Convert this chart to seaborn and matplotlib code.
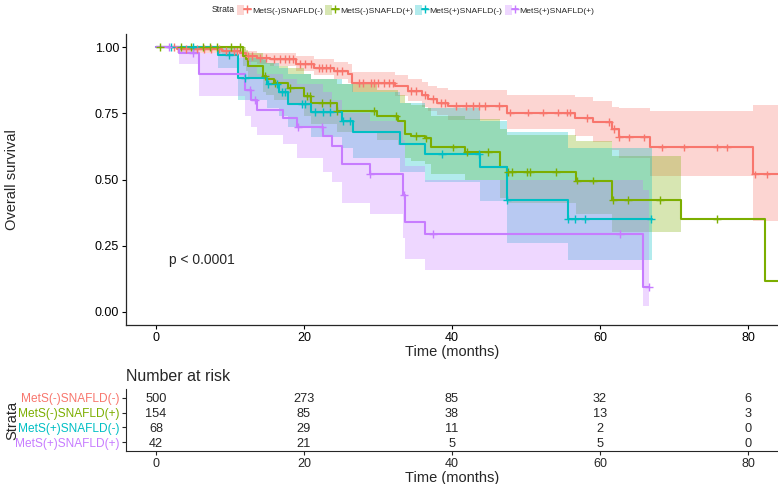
import numpy as np
import pandas as pd
import matplotlib
matplotlib.use("Agg")
import matplotlib.pyplot as plt
import seaborn as sns
from matplotlib.lines import Line2D
from matplotlib.patches import Patch
from matplotlib.legend_handler import HandlerTuple

sns.set_style("ticks")
plt.rcParams["font.family"] = ["Liberation Sans", "DejaVu Sans"]

strata = ["MetS(-)SNAFLD(-)", "MetS(-)SNAFLD(+)", "MetS(+)SNAFLD(-)", "MetS(+)SNAFLD(+)"]
colors = ["#F8766D", "#7CAE00", "#00BFC4", "#C77CFF"]

# ---- MetS(-)SNAFLD(-) ----
t1 = [0, 2.9, 8.9, 11.3, 12.2, 13.6, 15.4, 18.9, 21.4, 24.1, 26, 26.5, 32.3, 34, 35.9, 36.8, 38, 39.5,
      47.4, 56.6, 59.1, 61.6, 62.5, 66.8, 80.7, 85]
s1 = [1.0, 0.993, 0.987, 0.98, 0.966, 0.96, 0.955, 0.936, 0.922, 0.91, 0.898, 0.866, 0.855, 0.835, 0.82,
      0.804, 0.79, 0.778, 0.753, 0.734, 0.716, 0.69, 0.659, 0.621, 0.519, 0.519]
l1 = [1.0, 0.98, 0.97, 0.96, 0.945, 0.935, 0.93, 0.91, 0.895, 0.88, 0.865, 0.83, 0.815, 0.795, 0.775,
      0.76, 0.745, 0.725, 0.69, 0.665, 0.64, 0.61, 0.58, 0.515, 0.345, 0.345]
u1 = [1.0, 1.0, 1.0, 0.995, 0.985, 0.98, 0.978, 0.965, 0.955, 0.945, 0.935, 0.905, 0.895, 0.88, 0.87,
      0.855, 0.845, 0.84, 0.82, 0.81, 0.795, 0.775, 0.77, 0.76, 0.78, 0.78]
c1 = [2.5, 4, 5.5, 6.5, 7.5, 8.5, 9.5, 10.5, 11, 12.5, 13, 14, 14.8, 16, 16.8, 17.5, 18, 18.5, 19.5, 20.2,
      21, 22, 22.5, 23, 23.5, 24.5, 25.2, 27.5, 28, 29, 29.5, 30, 30.8, 31.5, 32, 34.5, 35.2, 36.3, 37.5,
      38.5, 39, 40.6, 41.9, 42.8, 43.6, 44.5, 46.4, 47.8, 50.3, 52.3, 54.3, 55.5, 55.9, 58.3, 61.2, 61.9,
      62.6, 63.9, 65.9, 68.4, 71.3, 75.8, 77.2, 80.9, 82.5]

# ---- MetS(-)SNAFLD(+) ----
t2 = [0, 11.8, 12.2, 12.5, 14.5, 14.9, 16, 17.8, 20, 21, 24.4, 29.9, 32.7, 33.6, 34.5, 36.3, 37.2, 41.8,
      46.5, 47.4, 56.8, 61.6, 71, 82.3, 85]
s2 = [1.0, 0.965, 0.955, 0.93, 0.89, 0.88, 0.866, 0.847, 0.816, 0.79, 0.76, 0.74, 0.72, 0.673, 0.665,
      0.655, 0.621, 0.603, 0.546, 0.527, 0.496, 0.421, 0.35, 0.117, 0.117]
l2 = [1.0, 0.93, 0.91, 0.88, 0.83, 0.82, 0.80, 0.78, 0.74, 0.71, 0.68, 0.65, 0.63, 0.58, 0.57, 0.56, 0.52,
      0.50, 0.43, 0.41, 0.37, 0.30, 0.214, np.nan, np.nan]
u2 = [1.0, 1.0, 0.99, 0.98, 0.95, 0.94, 0.93, 0.92, 0.90, 0.88, 0.86, 0.84, 0.82, 0.79, 0.78, 0.77, 0.74,
      0.73, 0.69, 0.67, 0.645, 0.59, 0.57, np.nan, np.nan]
c2 = [0.5, 3.4, 4.8, 6.4, 7.3, 8.2, 10.2, 11.4, 14.7, 16.1, 18.1, 20.4, 20.8, 22.4, 23.5, 24.4, 29.4, 32.5,
      35.2, 36.5, 40.2, 42, 44.9, 47.6, 48.1, 50.1, 50.5, 54.1, 56.9, 59.1, 61.8, 63.8, 68.1, 75.8]

# ---- MetS(+)SNAFLD(-) ----
t3 = [0, 8.4, 11.1, 15, 16.6, 17.9, 21, 25.1, 26.6, 33, 36.3, 43.8, 47.4, 55.7, 67]
s3 = [1.0, 0.97, 0.885, 0.86, 0.83, 0.787, 0.756, 0.72, 0.678, 0.635, 0.597, 0.546, 0.421, 0.35, 0.35]
l3 = [1.0, 0.92, 0.80, 0.77, 0.74, 0.70, 0.66, 0.62, 0.58, 0.53, 0.49, 0.42, 0.26, 0.195, 0.195]
u3 = [1.0, 1.0, 0.96, 0.94, 0.92, 0.90, 0.88, 0.86, 0.83, 0.79, 0.77, 0.72, 0.68, 0.62, 0.62]
c3 = [2, 5, 9.9, 12, 15.2, 16.3, 17, 17.4, 19.7, 20.1, 21.5, 22.6, 23.5, 25.3, 26.2, 38.6, 43.7, 47.4,
      55.7, 56.6, 58, 66.9]

# ---- MetS(+)SNAFLD(+) ----
t4 = [0, 3.1, 5.8, 12, 12.9, 13.6, 17.2, 19, 22.6, 23.8, 25.1, 28.9, 33.4, 33.6, 36.3, 65.8, 66.6]
s4 = [1.0, 0.979, 0.90, 0.84, 0.80, 0.763, 0.733, 0.70, 0.665, 0.628, 0.56, 0.52, 0.44, 0.34, 0.293,
      0.095, 0.095]
l4 = [1.0, 0.935, 0.816, 0.74, 0.70, 0.67, 0.635, 0.58, 0.53, 0.49, 0.41, 0.37, 0.28, 0.20, 0.158, 0.02, 0.02]
u4 = [1.0, 1.0, 0.98, 0.95, 0.93, 0.90, 0.88, 0.86, 0.83, 0.80, 0.75, 0.72, 0.65, 0.55, 0.50, 0.46, 0.46]
c4 = [1.7, 5, 12.7, 13.4, 19.2, 22.5, 28.9, 33.5, 37.4, 62.7, 66.6]

risk_times = [0, 20, 40, 60, 80]
risk1 = [500, 273, 85, 32, 6]
risk2 = [154, 85, 38, 13, 3]
risk3 = [68, 29, 11, 2, 0]
risk4 = [42, 21, 5, 5, 0]

groups = [(t1, s1, l1, u1, c1), (t2, s2, l2, u2, c2), (t3, s3, l3, u3, c3), (t4, s4, l4, u4, c4)]
risks = [risk1, risk2, risk3, risk4]

W, H = 778, 484
fig = plt.figure(figsize=(W / 100, H / 100), dpi=100)

def fx(px):
    return px / W

def fy(py):
    return 1 - py / H

ax = fig.add_axes([fx(126), fy(325), fx(778) - fx(126), fy(34) - fy(325)])
ax2 = fig.add_axes([fx(126), fy(451), fx(778) - fx(126), fy(389) - fy(451)])

# curves
rows, crow = [], []
for name, (t, s, l, u, c) in zip(strata, groups):
    for ti, si in zip(t, s):
        rows.append({"time": ti, "surv": si, "strata": name})
    ta, sa = np.array(t), np.array(s)
    for ci in c:
        idx = np.searchsorted(ta, ci, side="right") - 1
        crow.append({"time": ci, "surv": sa[idx], "strata": name})
df = pd.DataFrame(rows)
cdf = pd.DataFrame(crow)

for (t, s, l, u, c), col in zip(groups, colors):
    ax.fill_between(t, l, u, step="post", color=col, alpha=0.3, linewidth=0)

sns.lineplot(data=df, x="time", y="surv", hue="strata", hue_order=strata, palette=colors,
             drawstyle="steps-post", estimator=None, linewidth=1.5, legend=False, ax=ax)
sns.scatterplot(data=cdf, x="time", y="surv", hue="strata", hue_order=strata, palette=colors,
                marker="+", s=32, linewidth=1.0, legend=False, ax=ax, zorder=5)

ax.set_xlim(-4.05, 84.05)
ax.set_ylim(-0.05, 1.05)
ax.set_xticks([0, 20, 40, 60, 80])
ax.set_yticks([0, 0.25, 0.5, 0.75, 1.0])
ax.set_yticklabels(["0.00", "0.25", "0.50", "0.75", "1.00"])
ax.set_xlabel("Time (months)", fontsize=10.5, labelpad=1)
ax.set_ylabel("Overall survival", fontsize=10.5)
ax.yaxis.set_label_coords(-0.164, 0.5)
ax.tick_params(labelsize=9, length=3, width=0.8, colors="black", pad=2)
for sp in ["top", "right"]:
    ax.spines[sp].set_visible(False)
for sp in ["left", "bottom"]:
    ax.spines[sp].set_linewidth(0.9)
ax.text(1.8, 0.195, "p < 0.0001", fontsize=10, va="center", ha="left")

# risk table
for i, (r, col) in enumerate(zip(risks, colors)):
    for tt, v in zip(risk_times, r):
        ax2.text(tt, i + 1, str(v), ha="center", va="center_baseline", fontsize=9.2)
ax2.set_xlim(-4.05, 84.05)
ax2.set_ylim(4.6, 0.4)
ax2.set_yticks([1, 2, 3, 4])
ax2.set_yticklabels(strata)
for lab, col in zip(ax2.get_yticklabels(), colors):
    lab.set_color(col)
ax2.set_xticks([0, 20, 40, 60, 80])
ax2.tick_params(axis="y", labelsize=8.6, length=3, width=0.8, pad=2)
ax2.tick_params(axis="x", labelsize=9, length=3, width=0.8, pad=2)
ax2.set_xlabel("Time (months)", fontsize=10.5, labelpad=1)
ax2.set_ylabel("Strata", fontsize=10.5)
ax2.yaxis.set_label_coords(-0.164, 0.5)
ax2.set_title("Number at risk", loc="left", fontsize=11.5, pad=6)
for sp in ["top", "right"]:
    ax2.spines[sp].set_visible(False)

# legend
fig.text(fx(212), fy(10), "Strata", fontsize=6.2, va="center", ha="left")
handles = [(Patch(facecolor=c, alpha=0.3, edgecolor="none"),
            Line2D([], [], color=c, marker="+", markersize=6, linewidth=1.3)) for c in colors]
fig.legend(handles=handles, labels=strata, loc="center left", bbox_to_anchor=(fx(237), fy(10)),
           ncol=4, frameon=False, fontsize=6.1, handlelength=1.6, handleheight=1.6, handletextpad=0.15,
           columnspacing=0.25, borderaxespad=0, borderpad=0,
           handler_map={tuple: HandlerTuple(ndivide=None)})

fig.savefig("out.png", dpi=100)
